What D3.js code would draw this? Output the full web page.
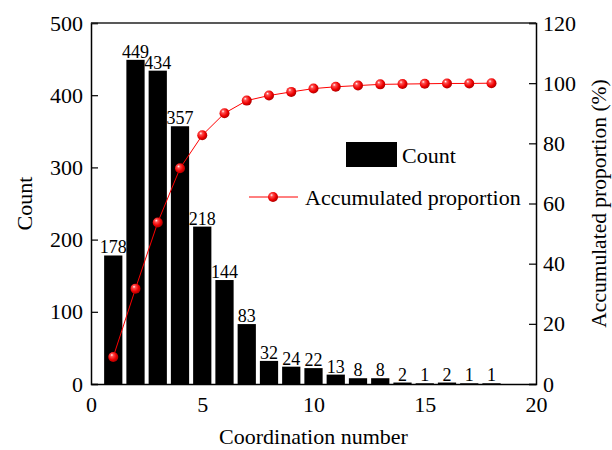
<!DOCTYPE html>
<html>
<head>
<meta charset="utf-8">
<script src="https://cdn.jsdelivr.net/npm/d3@7"></script>
<style>
  body { margin: 0; background: #fff; }
  text { font-family: "Liberation Serif", "Times New Roman", serif; fill: #000; }
</style>
</head>
<body>
<div id="chart"></div>
<script>
// data
var coordination = [1, 2, 3, 4, 5, 6, 7, 8, 9, 10, 11, 12, 13, 14, 15, 16, 17, 18];
var counts = [178, 449, 434, 357, 218, 144, 83, 32, 24, 22, 13, 8, 8, 2, 1, 2, 1, 1];
var accumulated = [9.0, 31.7, 53.7, 71.7, 82.7, 90.0, 94.2, 95.9, 97.1, 98.2, 98.8, 99.2, 99.6, 99.7, 99.8, 99.9, 99.9, 100];
var xTicks = [0, 5, 10, 15, 20];
var countTicks = [0, 100, 200, 300, 400, 500];
var propTicks = [0, 20, 40, 60, 80, 100, 120];

var data = coordination.map(function (c, i) {
  return { n: c, count: counts[i], acc: accumulated[i] };
});

// set the dimensions and margins of the graph
var margin = { top: 23, right: 76, bottom: 66, left: 91 },
  width = 612 - margin.left - margin.right,
  height = 450 - margin.top - margin.bottom;

var root = d3.select("#chart")
  .append("svg")
  .attr("width", 612)
  .attr("height", 450);

// shaded ball marker
var defs = root.append("defs");
var grad = defs.append("radialGradient")
  .attr("id", "ball")
  .attr("cx", "40%").attr("cy", "40%").attr("r", "60%")
  .attr("fx", "35%").attr("fy", "30%");
grad.append("stop").attr("offset", "0%").attr("stop-color", "#ffffff");
grad.append("stop").attr("offset", "25%").attr("stop-color", "#ff5050");
grad.append("stop").attr("offset", "70%").attr("stop-color", "#ee0000");
grad.append("stop").attr("offset", "100%").attr("stop-color", "#b00000");

var svg = root.append("g")
  .attr("transform", "translate(" + margin.left + "," + margin.top + ")");

var x = d3.scaleLinear().domain([0, 20]).range([0, width]);
var yL = d3.scaleLinear().domain([0, 500]).range([height, 0]);
var yR = d3.scaleLinear().domain([0, 120]).range([height, 0]);

var barW = (x(1) - x(0)) * 0.82;

// bars
svg.selectAll("rect.bar")
  .data(data)
  .enter()
  .append("rect")
  .attr("class", "bar")
  .attr("x", function (d) { return x(d.n) - barW / 2; })
  .attr("y", function (d) { return yL(d.count); })
  .attr("width", barW)
  .attr("height", function (d) { return height - yL(d.count); })
  .attr("fill", "#000");

// bar labels
svg.selectAll("text.lbl")
  .data(data)
  .enter()
  .append("text")
  .attr("class", "lbl")
  .attr("x", function (d) { return x(d.n); })
  .attr("y", function (d) { return yL(d.count) - 2; })
  .attr("text-anchor", "middle")
  .style("font-size", "18px")
  .text(function (d) { return d.count; });

// accumulated line
var line = d3.line()
  .x(function (d) { return x(d.n); })
  .y(function (d) { return yR(d.acc); });

svg.append("path")
  .datum(data)
  .attr("d", line)
  .attr("fill", "none")
  .attr("stroke", "#ff0000")
  .attr("stroke-width", 1);

svg.selectAll("circle.pt")
  .data(data)
  .enter()
  .append("circle")
  .attr("class", "pt")
  .attr("cx", function (d) { return x(d.n); })
  .attr("cy", function (d) { return yR(d.acc); })
  .attr("r", 5)
  .attr("fill", "url(#ball)");

// axes
var xAxis = svg.append("g")
  .attr("transform", "translate(0," + height + ")")
  .call(d3.axisBottom(x).tickValues(xTicks).tickSize(0).tickPadding(12));

var leftAxis = svg.append("g")
  .call(d3.axisLeft(yL).tickValues(countTicks).tickSize(-7).tickPadding(8));

var rightAxis = svg.append("g")
  .attr("transform", "translate(" + width + ",0)")
  .call(d3.axisRight(yR).tickValues(propTicks).tickSize(-7).tickPadding(7));

// top frame line
svg.append("line")
  .attr("x1", 0).attr("x2", width)
  .attr("y1", 0).attr("y2", 0)
  .attr("stroke", "#222")
  .attr("stroke-width", 1.5);

[xAxis, leftAxis, rightAxis].forEach(function (a) {
  a.select(".domain").attr("stroke", "#000").attr("stroke-width", 1.5);
  a.selectAll(".tick line").attr("stroke", "#000").attr("stroke-width", 1.2);
  a.selectAll(".tick text")
    .style("font-family", "'Liberation Serif', 'Times New Roman', serif")
    .style("font-size", "22px")
    .attr("fill", "#000");
});

// axis titles
root.append("text")
  .attr("x", margin.left + width / 2)
  .attr("y", 444)
  .attr("text-anchor", "middle")
  .style("font-size", "22px")
  .text("Coordination number");

root.append("text")
  .attr("transform", "translate(32," + (margin.top + height / 2) + ")rotate(-90)")
  .attr("text-anchor", "middle")
  .style("font-size", "22px")
  .text("Count");

root.append("text")
  .attr("transform", "translate(606," + (margin.top + height / 2) + ")rotate(-90)")
  .attr("text-anchor", "middle")
  .style("font-size", "21.5px")
  .text("Accumulated proportion (%)");

// legend
var legend = root.append("g");
legend.append("rect")
  .attr("x", 346).attr("y", 142)
  .attr("width", 51).attr("height", 25)
  .attr("fill", "#000");
legend.append("text")
  .attr("x", 402).attr("y", 155)
  .attr("dy", "0.35em")
  .style("font-size", "22px")
  .text("Count");
legend.append("line")
  .attr("x1", 249).attr("x2", 298)
  .attr("y1", 197).attr("y2", 197)
  .attr("stroke", "#ff0000")
  .attr("stroke-width", 1);
legend.append("circle")
  .attr("cx", 273).attr("cy", 197)
  .attr("r", 5)
  .attr("fill", "url(#ball)");
legend.append("text")
  .attr("x", 305).attr("y", 197)
  .attr("dy", "0.35em")
  .style("font-size", "22px")
  .text("Accumulated proportion");
</script>
</body>
</html>
